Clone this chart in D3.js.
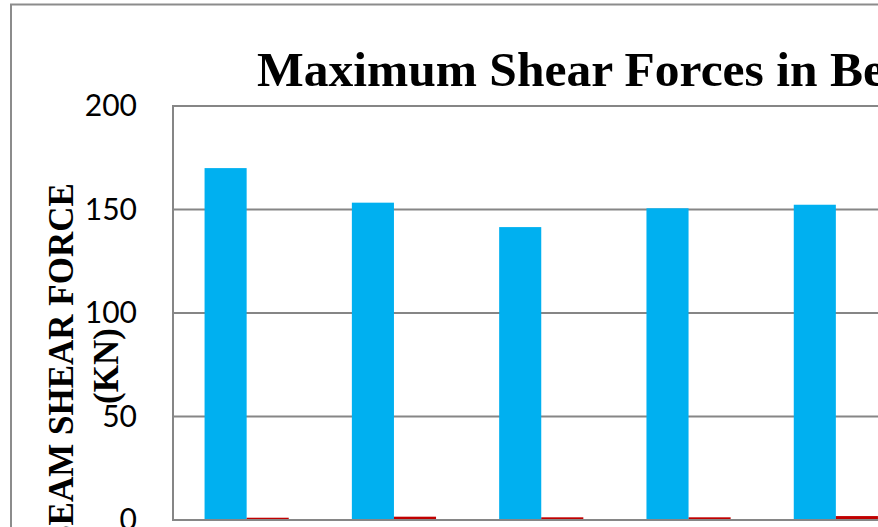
<!DOCTYPE html>
<html>
<head>
<meta charset="utf-8">
<script src="https://cdn.jsdelivr.net/npm/d3@7"></script>
<style>
  html, body { margin: 0; padding: 0; background: #fff; overflow: hidden; }
  svg { display: block; }
</style>
</head>
<body>
<svg id="chart" width="878" height="527"></svg>
<script>
// Beam shear force data
const categories = ["B1", "B2", "B3", "B4", "B5"];
const seriesNames = ["Shear force A", "Shear force B"];
const seriesA = [170, 153.3, 141.5, 150.6, 152.3];
const seriesB = [1.1, 1.6, 1.3, 1.3, 1.9];
const yTicks = [0, 50, 100, 150, 200];
const colors = ["#00B0F0", "#C00000"];

const svg = d3.select("#chart");

// Plot area geometry
const plot = { left: 173, top: 106, bottom: 520, step: 147.3 };
const plotRight = plot.left + categories.length * plot.step;

// Outer chart frame
svg.append("rect")
  .attr("x", 11).attr("y", 4.5)
  .attr("width", 1300).attr("height", 700)
  .attr("fill", "#fff")
  .attr("stroke", "#8c8c8c").attr("stroke-width", 2);

const y = d3.scaleLinear().domain([0, 200]).range([plot.bottom, plot.top]);

const gap = 150 / 350;
const x0 = d3.scaleBand().domain(categories)
  .range([plot.left, plotRight])
  .paddingInner(gap).paddingOuter(gap / 2);
const x1 = d3.scaleBand().domain(seriesNames).range([0, x0.bandwidth()]);

// Gridlines
svg.append("g").selectAll("line").data(yTicks).join("line")
  .attr("x1", plot.left).attr("x2", plotRight)
  .attr("y1", d => y(d)).attr("y2", d => y(d))
  .attr("stroke", "#868686").attr("stroke-width", 2);

// Bars
const rows = categories.map((c, i) => ({ c, vals: [seriesA[i], seriesB[i]] }));
svg.append("g").selectAll("g").data(rows).join("g")
  .attr("transform", d => `translate(${x0(d.c)},0)`)
  .selectAll("rect").data(d => d.vals.map((v, k) => ({ v, k })))
  .join("rect")
  .attr("x", d => x1(seriesNames[d.k]))
  .attr("width", x1.bandwidth())
  .attr("y", d => y(d.v))
  .attr("height", d => y(0) - y(d.v))
  .attr("fill", d => colors[d.k]);

// Baseline and vertical axis line
svg.append("line")
  .attr("x1", plot.left).attr("x2", plotRight)
  .attr("y1", y(0)).attr("y2", y(0))
  .attr("stroke", "#868686").attr("stroke-width", 2);
svg.append("line")
  .attr("x1", plot.left).attr("x2", plot.left)
  .attr("y1", plot.top - 1).attr("y2", plot.bottom + 1)
  .attr("stroke", "#868686").attr("stroke-width", 2);

// Y tick labels
const yAxis = d3.axisLeft(y).tickValues(yTicks).tickSize(0).tickPadding(36);
const gy = svg.append("g").attr("transform", `translate(${plot.left},0)`).call(yAxis);
gy.select(".domain").remove();
gy.selectAll("text")
  .attr("font-family", "Lato, 'Open Sans', sans-serif")
  .attr("font-size", 30)
  .attr("fill", "#000");

// Title
svg.append("text")
  .attr("x", 257).attr("y", 86)
  .attr("font-family", "'Liberation Serif', 'Times New Roman', serif")
  .attr("font-weight", "bold").attr("font-size", 49.5)
  .attr("fill", "#000")
  .text("Maximum Shear Forces in Beams");

// Y axis title (two lines)
const yTitle = svg.append("text")
  .attr("transform", "translate(73,366) rotate(-90)")
  .attr("text-anchor", "middle")
  .attr("font-family", "'Liberation Serif', 'Times New Roman', serif")
  .attr("font-weight", "bold").attr("font-size", 35)
  .attr("fill", "#000");
yTitle.append("tspan").attr("x", 0).attr("dy", 0).text("BEAM SHEAR FORCE");
yTitle.append("tspan").attr("x", 0).attr("dy", 45).text("(KN)");
</script>
</body>
</html>
